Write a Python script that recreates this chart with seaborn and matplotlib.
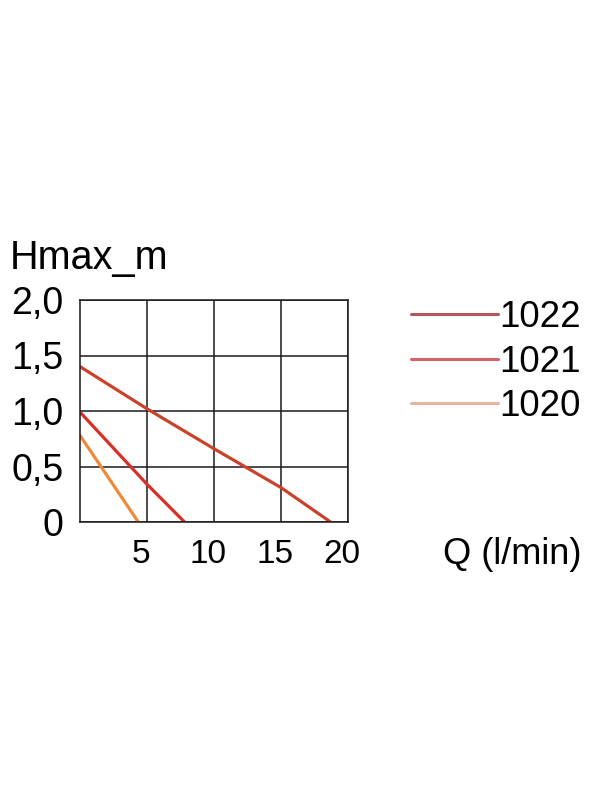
import pandas as pd
import matplotlib
matplotlib.use("Agg")
import matplotlib.pyplot as plt
import matplotlib.transforms as mtransforms
import seaborn as sns
from matplotlib.lines import Line2D

# pump curves
q_1022 = [0, 5, 10, 15, 18.7]
h_1022 = [1.40, 1.02, 0.66, 0.31, 0.0]
q_1021 = [0, 5, 7.8]
h_1021 = [0.99, 0.34, 0.0]
q_1020 = [0, 4.35]
h_1020 = [0.78, 0.0]

models = ["1022", "1021", "1020"]
x_ticks = [5, 10, 15, 20]
x_labels = ["5", "10", "15", "20"]
y_ticks = [0, 0.5, 1.0, 1.5, 2.0]
y_labels = ["0", "0,5", "1,0", "1,5", "2,0"]

line_colors = {"1022": "#c9432c", "1021": "#d92f27", "1020": "#f08a3a"}
legend_colors = {"1022": "#b4555a", "1021": "#d8616b", "1020": "#e9b2a2"}

df = pd.concat([
    pd.DataFrame({"Q": q_1022, "H": h_1022, "Model": "1022"}),
    pd.DataFrame({"Q": q_1021, "H": h_1021, "Model": "1021"}),
    pd.DataFrame({"Q": q_1020, "H": h_1020, "Model": "1020"}),
], ignore_index=True)

sns.set_style("white")
plt.rcParams["font.family"] = ["Liberation Sans", "DejaVu Sans"]
plt.rcParams["text.color"] = "black"
plt.rcParams["xtick.color"] = "black"
plt.rcParams["ytick.color"] = "black"

fig = plt.figure(figsize=(6, 8), dpi=100)
ax = fig.add_axes([80 / 600, 1 - 522 / 800, 268 / 600, 222 / 800])

sns.lineplot(data=df, x="Q", y="H", hue="Model", palette=line_colors,
             linewidth=2.3, legend=False, ax=ax, sort=False)

ax.set_xlim(0, 20)
ax.set_ylim(0, 2.0)
ax.set_xticks(x_ticks)
ax.set_xticklabels(x_labels, fontsize=24)
ax.set_yticks(y_ticks)
ax.set_yticklabels(y_labels, fontsize=27)
ax.tick_params(axis="both", length=0)
ax.tick_params(axis="x", pad=12)
ax.tick_params(axis="y", pad=12)
shift = mtransforms.ScaledTranslation(-6 / 100, 0, fig.dpi_scale_trans)
for lbl in ax.get_xticklabels():
    lbl.set_transform(lbl.get_transform() + shift)
ax.grid(True, color="#1a1a1a", linewidth=1.1)
ax.set_axisbelow(True)
for s in ax.spines.values():
    s.set_color("#1a1a1a")
    s.set_linewidth(1.1)
ax.set_xlabel("")
ax.set_ylabel("")

fig.text(10 / 600, 1 - 258 / 800, "Hmax_m", fontsize=28.5, ha="left", va="center")
fig.text(443 / 600, 1 - 555 / 800, "Q (l/min)", fontsize=26, ha="left", va="center")

handles = [Line2D([0], [0], color=legend_colors[m], linewidth=2.2) for m in models]
fig.legend(handles, models, loc="upper left", bbox_to_anchor=(411 / 600, 1 - 300 / 800),
           frameon=False, fontsize=26.5, handlelength=2.36, handletextpad=0.05,
           labelspacing=0.26, borderpad=0, borderaxespad=0)

fig.savefig("out.png", dpi=100)
